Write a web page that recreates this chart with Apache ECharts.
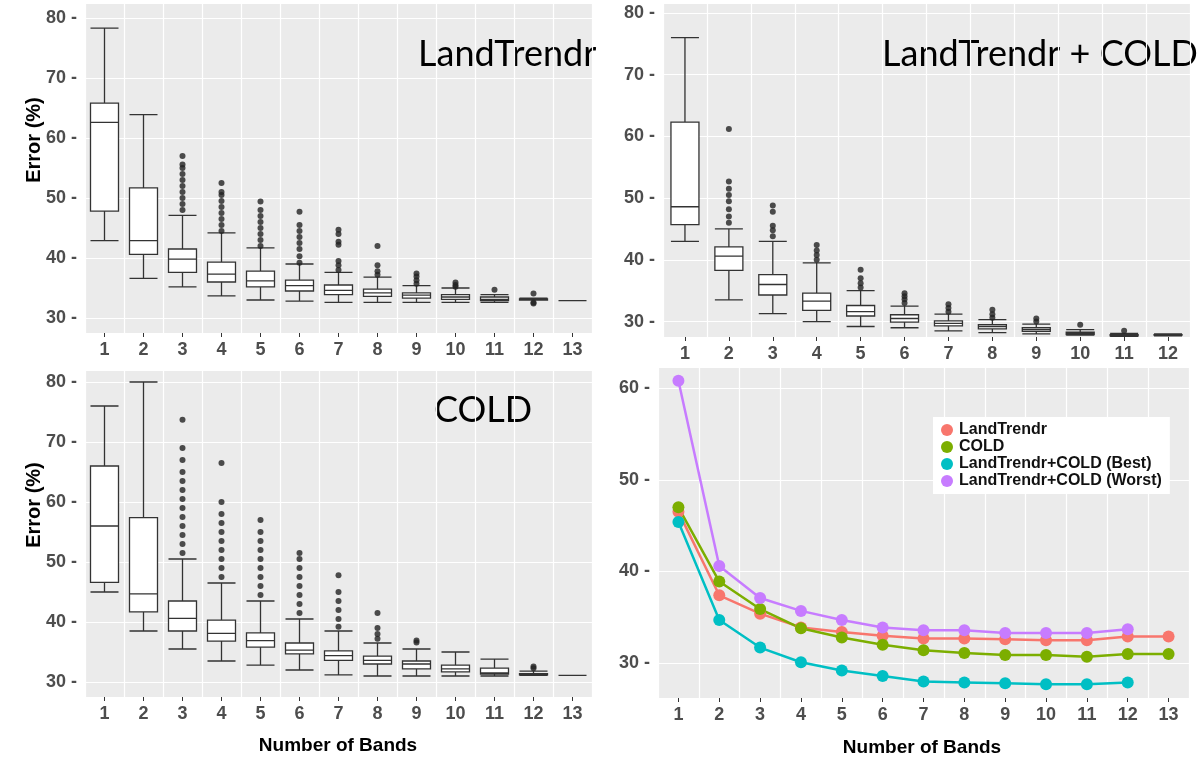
<!DOCTYPE html>
<html>
<head>
  <meta charset="UTF-8">
  <style>
    body { margin: 0; background: #fff; }
  </style>
  <script src="https://cdn.jsdelivr.net/npm/echarts@6/dist/echarts.min.js"></script>
</head>
<body>
  <div id="chart" style="width: 1200px; height: 762px;"></div>
  <script>
    const bands13 = ['1','2','3','4','5','6','7','8','9','10','11','12','13']
    const bands12 = bands13.slice(0, 12)

    // boxes: [min, Q1, median, Q3, max]
    const ltBoxes = [
      [42.9, 47.8, 62.6, 65.8, 78.3], [36.6, 40.6, 42.9, 51.7, 63.9], [35.2, 37.6, 39.8, 41.5, 47.1],
      [33.7, 36.0, 37.3, 39.3, 44.2], [33.0, 35.2, 36.2, 37.8, 41.7], [32.8, 34.5, 35.4, 36.3, 39.0],
      [32.6, 33.9, 34.6, 35.5, 37.6], [32.6, 33.6, 34.2, 34.8, 36.8], [32.6, 33.3, 33.8, 34.2, 35.4],
      [32.6, 33.1, 33.5, 33.9, 35.0], [32.6, 32.9, 33.1, 33.5, 33.9], [33.0, 33.0, 33.1, 33.2, 33.3],
      [32.9, 32.9, 32.9, 32.9, 32.9]
    ]
    const ltOutliers = [
      [2, 48], [2, 49], [2, 50], [2, 51], [2, 52], [2, 53], [2, 54], [2, 55], [2, 55.6], [2, 57],
      [3, 44.5], [3, 45.5], [3, 46.5], [3, 47.5], [3, 48.5], [3, 49.5], [3, 50.5], [3, 51], [3, 52.5],
      [4, 42], [4, 43], [4, 44], [4, 45], [4, 46], [4, 47], [4, 48], [4, 49.4],
      [5, 39.2], [5, 40.3], [5, 41.5], [5, 42.5], [5, 43.5], [5, 44.5], [5, 45.5], [5, 47.7],
      [6, 38], [6, 38.8], [6, 39.5], [6, 42.2], [6, 42.7], [6, 44], [6, 44.7],
      [7, 37.2], [7, 37.8], [7, 38.8], [7, 42],
      [8, 35.7], [8, 36.3], [8, 36.9], [8, 37.4],
      [9, 35.2], [9, 35.5], [9, 35.9],
      [10, 34.7], [11, 34.1], [11, 32.6], [11, 32.4]
    ]

    const lcBoxes = [
      [43.0, 45.7, 48.6, 62.3, 76.0], [33.5, 38.3, 40.6, 42.1, 45.0], [31.3, 34.3, 36.0, 37.6, 43.0],
      [30.0, 31.8, 33.3, 34.6, 39.5], [29.2, 30.9, 31.6, 32.6, 35.0], [29.0, 29.9, 30.5, 31.1, 32.5],
      [28.5, 29.3, 29.7, 30.1, 31.2], [28.2, 28.8, 29.2, 29.5, 30.3], [28.0, 28.4, 28.7, 29.0, 29.6],
      [27.8, 27.9, 28.1, 28.3, 28.7], [27.6, 27.7, 27.8, 27.9, 28.1], [27.7, 27.8, 27.8, 27.9, 28.0]
    ]
    const lcOutliers = [
      [1, 46], [1, 47], [1, 48.2], [1, 49.5], [1, 50.5], [1, 51.5], [1, 52.7], [1, 61.2],
      [2, 43.8], [2, 44.8], [2, 45.5], [2, 47.8], [2, 48.8],
      [3, 40], [3, 40.8], [3, 41.5], [3, 42.4],
      [4, 35.5], [4, 36.2], [4, 37], [4, 38.4],
      [5, 33], [5, 33.6], [5, 34.1], [5, 34.6],
      [6, 31.6], [6, 32.2], [6, 32.8],
      [7, 30.6], [7, 31.2], [7, 31.9],
      [8, 30], [8, 30.5],
      [9, 29.5], [10, 28.5]
    ]

    const coBoxes = [
      [45.0, 46.6, 56.0, 66.0, 76.0], [38.5, 41.7, 44.7, 57.4, 80.0], [35.5, 38.5, 40.6, 43.5, 50.5],
      [33.5, 36.8, 38.1, 40.3, 46.5], [32.8, 35.8, 36.9, 38.2, 43.5], [32.0, 34.7, 35.3, 36.5, 40.5],
      [31.2, 33.6, 34.4, 35.2, 38.5], [31.0, 33.0, 33.6, 34.3, 36.5], [31.0, 32.2, 33.0, 33.5, 35.5],
      [31.0, 31.7, 32.2, 32.8, 35.0], [31.0, 31.3, 31.5, 32.3, 33.8], [31.1, 31.2, 31.3, 31.4, 31.8],
      [31.1, 31.1, 31.1, 31.1, 31.1]
    ]
    const coOutliers = [
      [2, 51.5], [2, 53], [2, 54.5], [2, 56], [2, 57.5], [2, 59], [2, 60.5], [2, 62], [2, 63.5], [2, 65], [2, 67], [2, 69], [2, 73.7],
      [3, 47.5], [3, 49], [3, 50.5], [3, 52], [3, 53.5], [3, 55], [3, 56.5], [3, 58], [3, 60], [3, 66.5],
      [4, 44.5], [4, 46], [4, 47.5], [4, 49], [4, 50.5], [4, 52], [4, 53.5], [4, 55], [4, 57],
      [5, 41.5], [5, 43], [5, 44.5], [5, 46], [5, 47.5], [5, 49], [5, 50.5], [5, 51.5],
      [6, 39.2], [6, 40.5], [6, 42], [6, 43.5], [6, 45], [6, 47.8],
      [7, 37.2], [7, 38], [7, 39], [7, 41.5],
      [8, 36.6], [8, 36.9],
      [11, 32.3], [11, 32.6]
    ]

    const lineLT = [46.5, 37.4, 35.4, 33.9, 33.4, 33.0, 32.7, 32.7, 32.6, 32.5, 32.5, 32.9, 32.9]
    const lineCOLD = [47.0, 38.9, 35.9, 33.8, 32.8, 32.0, 31.4, 31.1, 30.9, 30.9, 30.7, 31.0, 31.0]
    const lineBest = [45.4, 34.7, 31.7, 30.1, 29.2, 28.6, 28.0, 27.9, 27.8, 27.7, 27.7, 27.9]
    const lineWorst = [60.8, 40.6, 37.1, 35.7, 34.7, 33.9, 33.6, 33.6, 33.3, 33.3, 33.3, 33.7]

    const font = "'Liberation Sans Narrow', 'Liberation Sans', Arial, sans-serif"
    const titleFont = "Lato, 'Open Sans', sans-serif"
    const tickLabel = { color: '#4d4d4d', fontSize: 18, fontWeight: 'bold', fontFamily: font }

    function xAx(i, cats) {
      return {
        gridIndex: i, type: 'category', data: cats, boundaryGap: true,
        axisLine: { show: false }, axisTick: { show: true, alignWithLabel: true, length: 4, lineStyle: { color: '#333' } },
        axisLabel: Object.assign({ margin: 8 }, tickLabel),
        splitLine: { show: true, interval: 0, lineStyle: { color: '#fff', width: 1.2 } }
      }
    }
    // min is not a round number here, so no fixed interval: ticks fall on multiples of 5
    function yAx(i, min, max) {
      return {
        gridIndex: i, type: 'value', min: min, max: max, minInterval: 5,
        axisLine: { show: false }, axisTick: { show: false },
        axisLabel: Object.assign({ margin: 8, showMinLabel: false, showMaxLabel: false,
          formatter: v => (Math.abs(v % 10) < 1e-6 ? v + ' -' : '') }, tickLabel),
        splitLine: { lineStyle: { color: '#fff', width: 1.2 } },
        minorSplitLine: { show: false }
      }
    }
    function boxSeries(i, data) {
      return { type: 'boxplot', xAxisIndex: i, yAxisIndex: i, data: data, boxWidth: [28, 28],
        itemStyle: { color: '#fff', borderColor: '#333', borderWidth: 1.3 } }
    }
    function outSeries(i, data) {
      return { type: 'scatter', xAxisIndex: i, yAxisIndex: i, data: data, symbolSize: 6,
        itemStyle: { color: '#222' } }
    }
    function lineSeries(name, data, color) {
      return { name: name, type: 'line', xAxisIndex: 3, yAxisIndex: 3, data: data, symbol: 'circle',
        symbolSize: 12, lineStyle: { color: color, width: 2.5 }, itemStyle: { color: color } }
    }

    const myChart = echarts.init(document.getElementById('chart'))
    const options = {
      animation: false,
      grid: [
        { left: 85, top: 3, width: 507, height: 330, show: true, backgroundColor: '#ebebeb', borderWidth: 0 },
        { left: 663, top: 3, width: 527, height: 334, show: true, backgroundColor: '#ebebeb', borderWidth: 0 },
        { left: 85, top: 370, width: 507, height: 327, show: true, backgroundColor: '#ebebeb', borderWidth: 0 },
        { left: 658, top: 367, width: 531, height: 331, show: true, backgroundColor: '#ebebeb', borderWidth: 0 }
      ],
      xAxis: [xAx(0, bands13), xAx(1, bands12), xAx(2, bands13), xAx(3, bands13)],
      yAxis: [yAx(0, 27.5, 82.5), yAx(1, 27.5, 81.6), yAx(2, 27.5, 82), yAx(3, 26.2, 62.3)],
      legend: {
        data: ['LandTrendr', 'COLD', 'LandTrendr+COLD (Best)', 'LandTrendr+COLD (Worst)'],
        orient: 'vertical', left: 933, top: 417, backgroundColor: '#fff', padding: [5, 8, 5, 8],
        itemGap: 1, itemWidth: 14, itemHeight: 12, icon: 'circle',
        textStyle: { fontSize: 16, fontWeight: 'bold', color: '#111', fontFamily: font }
      },
      graphic: [
        { type: 'text', left: 418, top: 36, style: { text: 'LandTrendr', fontSize: 36, fontFamily: titleFont, fill: '#000' } },
        { type: 'text', left: 882, top: 36, style: { text: 'LandTrendr + COLD', fontSize: 36, fontFamily: titleFont, fill: '#000' } },
        { type: 'text', left: 434, top: 392, style: { text: 'COLD', fontSize: 36, fontFamily: titleFont, fill: '#000' } },
        { type: 'text', x: 34, y: 140, rotation: Math.PI / 2, style: { text: 'Error (%)', fontSize: 20, fontWeight: 'bold', fontFamily: font, fill: '#000', align: 'center', verticalAlign: 'middle' } },
        { type: 'text', x: 34, y: 505, rotation: Math.PI / 2, style: { text: 'Error (%)', fontSize: 20, fontWeight: 'bold', fontFamily: font, fill: '#000', align: 'center', verticalAlign: 'middle' } },
        { type: 'text', x: 338, y: 746, style: { text: 'Number of Bands', fontSize: 19, fontWeight: 'bold', fontFamily: font, fill: '#000', align: 'center', verticalAlign: 'middle' } },
        { type: 'text', x: 922, y: 748, style: { text: 'Number of Bands', fontSize: 19, fontWeight: 'bold', fontFamily: font, fill: '#000', align: 'center', verticalAlign: 'middle' } }
      ],
      series: [
        boxSeries(0, ltBoxes), outSeries(0, ltOutliers),
        boxSeries(1, lcBoxes), outSeries(1, lcOutliers),
        boxSeries(2, coBoxes), outSeries(2, coOutliers),
        lineSeries('LandTrendr', lineLT, '#f8766d'),
        lineSeries('COLD', lineCOLD, '#7cae00'),
        lineSeries('LandTrendr+COLD (Best)', lineBest, '#00bfc4'),
        lineSeries('LandTrendr+COLD (Worst)', lineWorst, '#c77cff')
      ]
    }
    myChart.setOption(options)
  </script>
</body>
</html>
